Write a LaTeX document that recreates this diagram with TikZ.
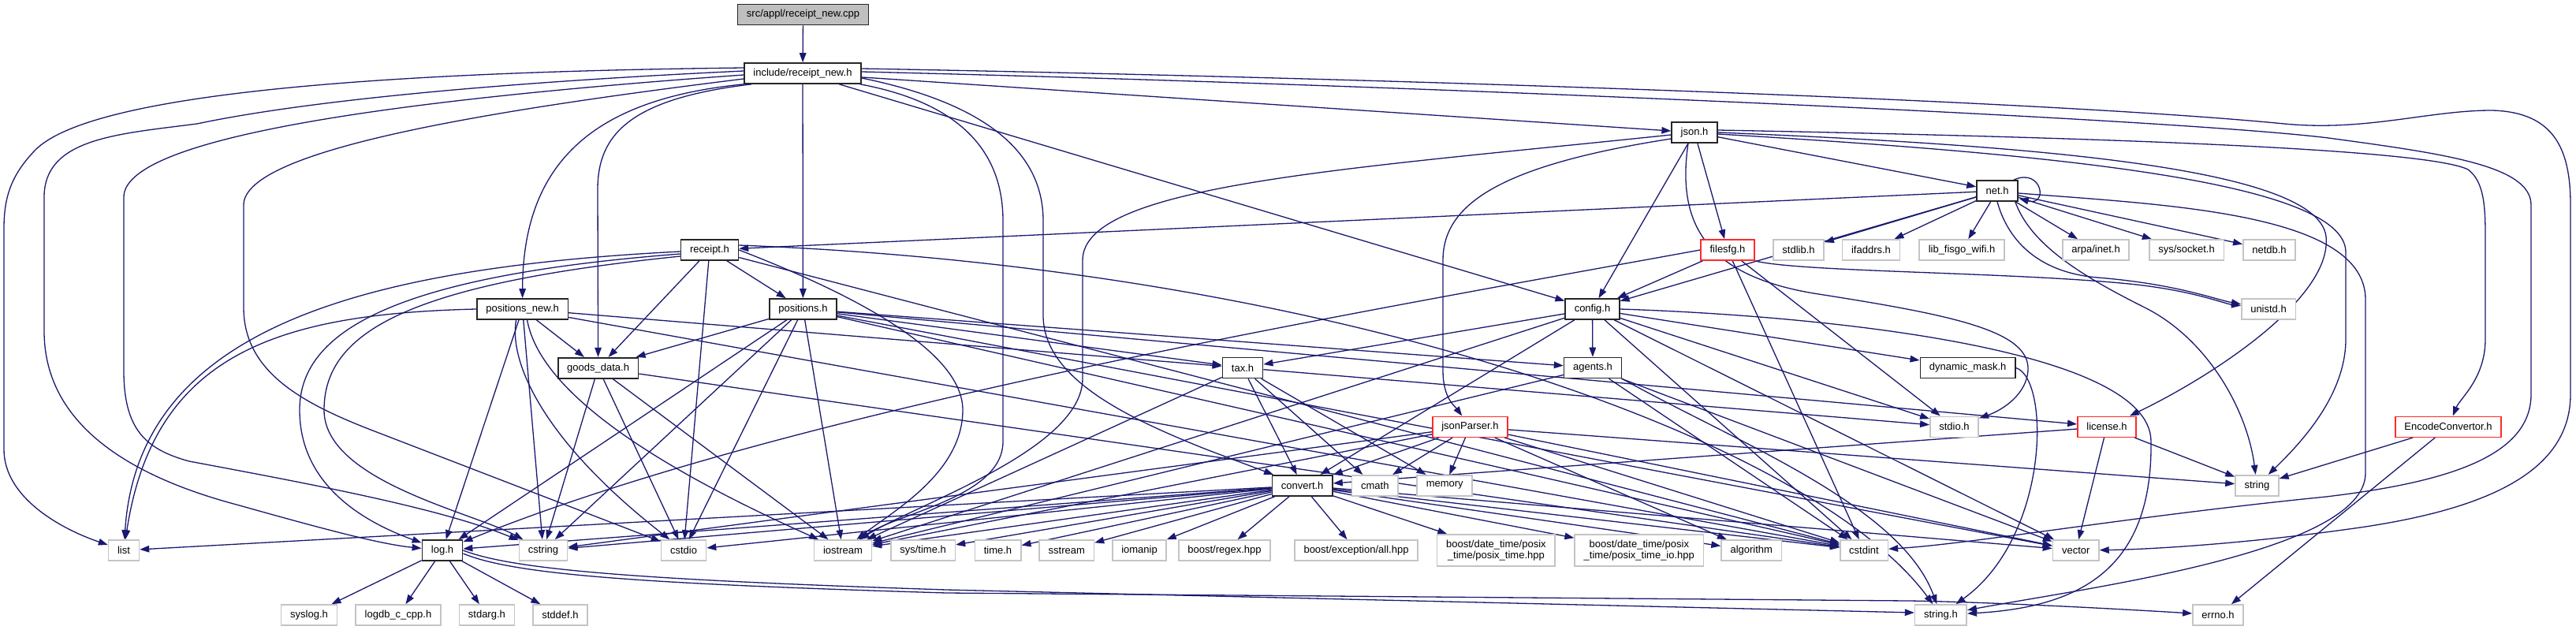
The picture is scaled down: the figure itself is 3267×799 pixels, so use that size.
\documentclass[tikz,border=0pt]{standalone}
\usepackage{fontspec}
\setmainfont{Liberation Sans}
\usetikzlibrary{arrows.meta,calc}
\pgfdeclarelayer{bg}
\pgfsetlayers{bg,main}
\definecolor{edgec}{HTML}{191970}
\definecolor{extb}{HTML}{C4C4C4}
\definecolor{redb}{HTML}{FF2A2A}
\definecolor{docb}{HTML}{262626}
\definecolor{rootf}{HTML}{BFBFBF}
\tikzset{
  nbase/.style={draw, line width=1.6pt, minimum height=26pt, inner xsep=11.5pt, inner ysep=0pt,
    font=\fontsize{13}{14.5}\selectfont, fill=white, align=center},
  docbox/.style={nbase, draw=docb},
  extbox/.style={nbase, draw=extb},
  redbox/.style={nbase, draw=redb},
  rootbox/.style={nbase, draw=docb, fill=rootf},
  dep/.style={draw=edgec, line width=1.3pt, -{Triangle[length=12pt,width=8.5pt]}},
}
\begin{document}
\begin{tikzpicture}[x=1pt,y=-1pt]
\useasboundingbox (0,0) rectangle (3267,799);
% nodes
\node[rootbox] (cpp) at (1018.5,18.5) {src/appl/receipt\_new.cpp};
\node[docbox] (rnh) at (1018,93) {include/receipt\_new.h};
\node[docbox] (json) at (2149,168) {json.h};
\node[docbox] (net) at (2533,242) {net.h};
\node[docbox] (receipt) at (900,317) {receipt.h};
\node[redbox] (filesfg) at (2191,317) {filesfg.h};
\node[extbox] (stdlib) at (2281,317) {stdlib.h};
\node[extbox] (ifaddrs) at (2373,317) {ifaddrs.h};
\node[extbox] (wifi) at (2488,317) {lib\_fisgo\_wifi.h};
\node[extbox] (arpa) at (2658,317) {arpa/inet.h};
\node[extbox] (socket) at (2773,317) {sys/socket.h};
\node[extbox] (netdb) at (2878,317) {netdb.h};
\node[docbox] (posnew) at (662.6,392) {positions\_new.h};
\node[docbox] (positions) at (1018.4,392) {positions.h};
\node[docbox] (config) at (2019.5,392) {config.h};
\node[extbox] (unistd) at (2877,392) {unistd.h};
\node[docbox] (goods) at (758.6,466.7) {goods\_data.h};
\node[docbox] (tax) at (1576,466.5) {tax.h};
\node[docbox] (agents) at (2020,466.5) {agents.h};
\node[docbox] (dynmask) at (2495.6,466.5) {dynamic\_mask.h};
\node[redbox] (jsonparser) at (1864.4,541.3) {jsonParser.h};
\node[extbox] (stdio) at (2478.5,541.3) {stdio.h};
\node[redbox] (license) at (2672,541.3) {license.h};
\node[redbox] (encode) at (3105,541.3) {EncodeConvertor.h};
\node[docbox] (convert) at (1651.7,615.8) {convert.h};
\node[extbox] (cmath) at (1743.8,615.8) {cmath};
\node[extbox] (memory) at (1832.2,615.8) {memory};
\node[extbox] (string) at (2862.4,615.7) {string};
\node[extbox] (list) at (157,698) {list};
\node[docbox] (log) at (561,698) {log.h};
\node[extbox] (cstring) at (689,698) {cstring};
\node[extbox] (cstdio) at (867,698) {cstdio};
\node[extbox] (iostream) at (1069,698) {iostream};
\node[extbox] (systime) at (1170.6,698) {sys/time.h};
\node[extbox] (timeh) at (1265.5,698) {time.h};
\node[extbox] (sstream) at (1352.8,698) {sstream};
\node[extbox] (iomanip) at (1445,698) {iomanip};
\node[extbox] (regex) at (1553,698) {boost/regex.hpp};
\node[extbox] (exception) at (1720,698) {boost/exception/all.hpp};
\node[extbox, minimum height=40pt] (posix1) at (1897.4,698) {boost/date\_time/posix\\\_time/posix\_time.hpp};
\node[extbox, minimum height=40pt] (posix2) at (2078.8,698) {boost/date\_time/posix\\\_time/posix\_time\_io.hpp};
\node[extbox] (algorithm) at (2221.3,698) {algorithm};
\node[extbox] (cstdint) at (2364,698) {cstdint};
\node[extbox] (vector) at (2632.7,698) {vector};
\node[extbox] (syslog) at (392,780) {syslog.h};
\node[extbox] (logdb) at (505,780) {logdb\_c\_cpp.h};
\node[extbox] (stdarg) at (617.4,780) {stdarg.h};
\node[extbox] (stddef) at (710.5,780) {stddef.h};
\node[extbox] (stringh) at (2461.4,780) {string.h};
\node[extbox] (errno) at (2813,780) {errno.h};

\begin{pgfonlayer}{bg}
\fill[white] (0,0) rectangle (3267,799);
% straight connectors
\foreach \a/\b in {cpp/rnh, rnh/json, rnh/config, rnh/positions, json/net, json/filesfg, json/config,
  net/receipt, net/config, net/stdlib, net/ifaddrs, net/wifi, net/arpa, net/socket, net/netdb,
  filesfg/config, filesfg/stdio, filesfg/cstdint,
  receipt/positions, receipt/goods, receipt/cstdio, receipt/cstdint,
  posnew/goods, posnew/tax, posnew/log, posnew/cstring, posnew/cstdint,
  positions/goods, positions/tax, positions/agents, positions/log, positions/cstring, positions/cstdio,
  positions/iostream, positions/cstdint, positions/vector, positions/license,
  goods/cstring, goods/cstdio, goods/iostream, goods/cstdint,
  config/tax, config/agents, config/dynmask, config/convert, config/iostream, config/stdio, config/cstdint, config/vector,
  tax/convert, tax/stdio, tax/cmath, tax/memory, tax/iostream,
  agents/iostream, agents/cstdint, agents/vector,
  jsonparser/convert, jsonparser/cmath, jsonparser/memory, jsonparser/cstdint, jsonparser/algorithm,
  jsonparser/string, jsonparser/vector, jsonparser/iostream, jsonparser/cstring,
  convert/list, convert/log, convert/cstring, convert/cstdio, convert/iostream, convert/systime, convert/timeh,
  convert/sstream, convert/iomanip, convert/regex, convert/exception, convert/posix1, convert/posix2,
  convert/algorithm, convert/cstdint, convert/vector,
  license/convert, license/string, license/vector,
  encode/string, encode/errno,
  log/syslog, log/logdb, log/stdarg, log/stddef}
  \draw[dep] (\a) -- (\b);
% routed connectors
\draw[dep] ($(rnh.west)+(0,-7)$) .. controls (420,92) and (110,125) .. (45,190) .. controls (14,222) and (5,250) .. (5,290) -- (5,570) .. controls (5,630) and (75,670) .. (list);
\draw[dep] ($(rnh.west)+(0,-3)$) .. controls (520,110) and (330,140) .. (250,157) .. controls (150,170) and (56,175) .. (56,250) -- (56,420) .. controls (56,530) and (150,600) .. (300,640) .. controls (400,668) and (480,690) .. (log);
\draw[dep] ($(rnh.west)+(0,2)$) .. controls (450,130) and (157,180) .. (157,250) -- (157,470) .. controls (157,545) and (185,570) .. (240,585) .. controls (400,615) and (560,645) .. (cstring);
\draw[dep] ($(rnh.west)+(0,7)$) .. controls (620,140) and (309,190) .. (309,260) -- (309,390) .. controls (309,470) and (380,510) .. (470,545) -- (cstdio);
\draw[dep] (rnh.south west) .. controls (760,125) and (663,200) .. (posnew);
\draw[dep] ($(rnh.south west)+(10,0)$) .. controls (800,125) and (758,170) .. (758,240) -- (goods);
\draw[dep] ($(rnh.south east)+(-2,0)$) .. controls (1215,130) and (1272,190) .. (1272,280) -- (1272,560) .. controls (1272,630) and (1140,650) .. (iostream);
\draw[dep] ($(rnh.east)+(0,6)$) .. controls (1245,130) and (1323,190) .. (1323,280) -- (1323,400) .. controls (1323,480) and (1430,530) .. (1530,570) -- (convert);
\draw[dep] ($(rnh.east)+(0,-6)$) .. controls (1800,100) and (2600,128) .. (2897,157) .. controls (3000,167) and (3080,140) .. (3160,140) .. controls (3240,142) and (3260,190) .. (3260,260) -- (3260,500) .. controls (3260,600) and (3150,645) .. (3000,668) .. controls (2850,690) and (2720,697) .. (vector);
\draw[dep] ($(rnh.east)+(0,-2)$) .. controls (1800,108) and (2750,150) .. (2953,175) .. controls (3100,195) and (3210,210) .. (3210,260) -- (3210,500) .. controls (3210,580) and (3100,612) .. (2950,630) .. controls (2700,655) and (2500,690) .. (cstdint);
\draw[dep] ($(json.west)+(0,3)$) .. controls (1700,215) and (1373,235) .. (1373,330) -- (1373,480) .. controls (1373,570) and (1160,640) .. (iostream);
\draw[dep] ($(json.west)+(0,8)$) .. controls (1900,210) and (1830,260) .. (1830,330) -- (1830,470) .. controls (1830,505) and (1845,515) .. (jsonparser);
\draw[dep] ($(json.east)+(0,2)$) .. controls (2600,195) and (2975,230) .. (2975,320) -- (2975,430) .. controls (2975,500) and (2920,560) .. (string);
\draw[dep] (json.east) .. controls (2600,185) and (2940,215) .. (2950,300) .. controls (2958,380) and (2800,480) .. (license);
\draw[dep] ($(json.east)+(0,-3)$) .. controls (2700,175) and (3080,190) .. (3130,215) .. controls (3150,230) and (3152,260) .. (3152,300) -- (3152,430) .. controls (3152,480) and (3120,505) .. (encode);
\draw[dep] ($(json.south)+(-8,0)$) .. controls (2125,290) and (2170,350) .. (2300,372) .. controls (2480,400) and (2575,420) .. (2572,470) .. controls (2570,500) and (2540,520) .. (stdio);
\draw[dep] ($(net.north east)+(-6,0)$) .. controls (2590,212) and (2598,262) .. ($(net.south east)+(1,-4)$);
\draw[dep] (net.south) .. controls (2545,300) and (2580,345) .. (2660,352) .. controls (2760,360) and (2810,380) .. (unistd);
\draw[dep] ($(net.south east)+(-4,0)$) .. controls (2575,310) and (2640,350) .. (2720,390) .. controls (2800,430) and (2850,520) .. (string);
\draw[dep] ($(net.east)+(0,3)$) .. controls (2750,260) and (3000,270) .. (3000,380) -- (3000,600) .. controls (3000,700) and (2650,745) .. (stringh);
\draw[dep] (filesfg.south east) .. controls (2280,345) and (2550,345) .. (2700,360) .. controls (2780,368) and (2820,385) .. (unistd);
\draw[dep] (filesfg.west) .. controls (1700,400) and (1000,520) .. (log);
\draw[dep] ($(receipt.west)+(0,2)$) .. controls (450,340) and (175,420) .. (list);
\draw[dep] ($(receipt.west)+(0,5)$) .. controls (500,350) and (380,420) .. (380,520) .. controls (380,620) and (470,665) .. (log);
\draw[dep] ($(receipt.west)+(0,8)$) .. controls (520,360) and (411,420) .. (411,520) .. controls (411,610) and (600,650) .. (cstring);
\draw[dep] (receipt.east) .. controls (1100,380) and (1221,450) .. (1221,520) .. controls (1221,600) and (1130,650) .. (iostream);
\draw[dep] ($(receipt.east)+(0,-6)$) .. controls (1700,340) and (2300,560) .. (stringh);
\draw[dep] (posnew.west) .. controls (350,398) and (195,450) .. (list);
\draw[dep] ($(posnew.south)+(-8,0)$) .. controls (645,460) and (690,560) .. (cstdio);
\draw[dep] ($(posnew.south)+(6,0)$) .. controls (680,470) and (760,560) .. (iostream);
\draw[dep] (config.east) .. controls (2300,400) and (2728,440) .. (2728,560) .. controls (2730,720) and (2640,770) .. (stringh);
\draw[dep] (agents.south east) .. controls (2200,560) and (2410,640) .. (stringh);
\draw[dep] (dynmask.east) .. controls (2600,480) and (2600,680) .. (stringh);
\draw[dep] (log.east) .. controls (650,722) and (800,735) .. (1200,748) -- ($(stringh.west)+(0,-3)$);
\draw[dep] ($(log.east)+(0,4)$) .. controls (650,728) and (800,740) .. (1200,752) -- (2420,762) .. controls (2500,763) and (2650,770) .. (errno);
\end{pgfonlayer}
\end{tikzpicture}
\end{document}
